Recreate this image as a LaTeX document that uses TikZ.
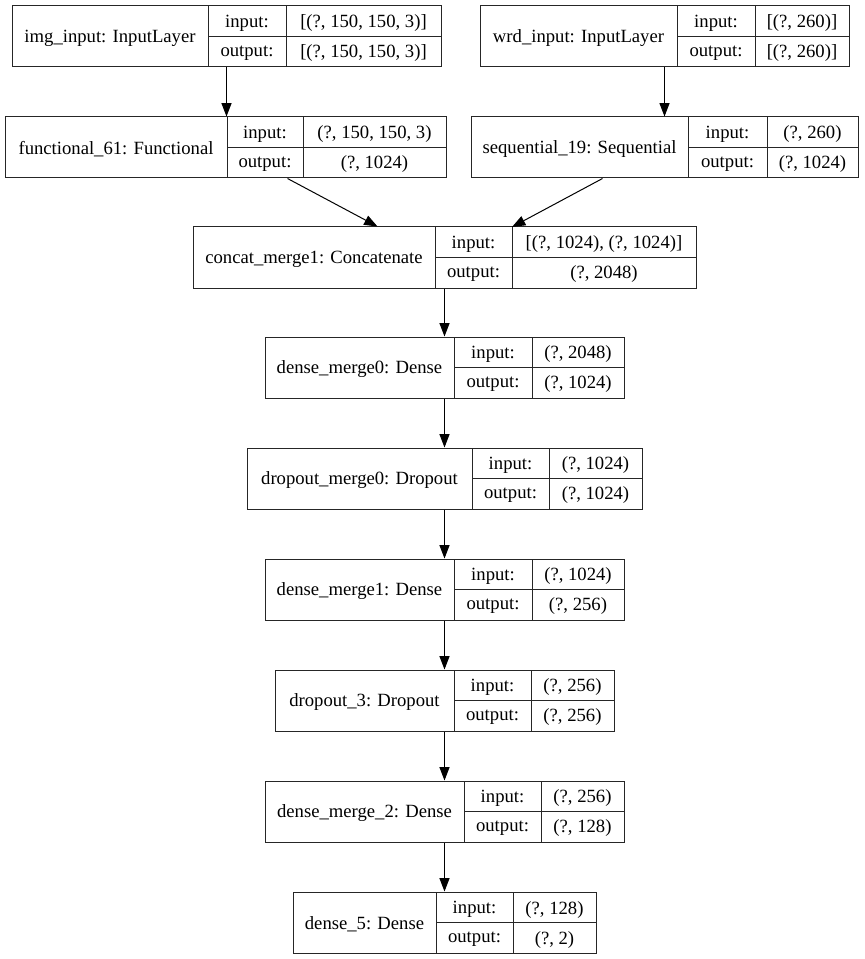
\documentclass[tikz,border=0pt]{standalone}
\usepackage{fontspec}
\setmainfont{Liberation Serif}
\usetikzlibrary{fit,calc,arrows.meta}
\tikzset{
  layer/.style={draw=black!85, line width=0.75pt, inner sep=0pt},
  layerline/.style={draw=black!85, line width=0.75pt},
  txt/.style={inner sep=0pt, font=\fontsize{14}{16}\selectfont, text=black},
  arr/.style={draw=black, line width=0.75pt, -{Triangle[length=10pt,width=7.5pt]}}
}
% #1 name, #2 x1, #3 d1, #4 d2, #5 x2, #6 ytop, #7 label, #8 input, #9 output
\newcommand\layerbox[9]{%
  \coordinate (#1-nw) at (#2,#6);
  \coordinate (#1-se) at (#5,{#6+61});
  \node[layer, fit=(#1-nw)(#1-se)] (#1) {};
  \coordinate (#1-d1) at (#3,#6);
  \coordinate (#1-d2) at (#4,#6);
  \coordinate (#1-m) at (#3,{#6+30.5});
  \draw[layerline] (#1-d1) -- (#1-d1 |- #1.south);
  \draw[layerline] (#1-d2) -- (#1-d2 |- #1.south);
  \draw[layerline] (#1-m) -- (#1-m -| #1.east);
  \node[txt] (#1-lab) at ({(#2+#3)/2},{#6+32.5}) {#7};
  \node[txt] (#1-ik) at ({(#3+#4)/2},{#6+17.5}) {input:};
  \node[txt] (#1-ok) at ({(#3+#4)/2},{#6+47.5}) {output:};
  \node[txt] (#1-iv) at ({(#4+#5)/2},{#6+17.5}) {#8};
  \node[txt] (#1-ov) at ({(#4+#5)/2},{#6+47.5}) {#9};
}
\begin{document}
\begin{tikzpicture}[x=0.75pt,y=-0.75pt]
\useasboundingbox (0,0) rectangle (864,959);
\layerbox{img}{12}{208}{286}{441}{6}{img\_input: InputLayer}{[(?, 150, 150, 3)]}{[(?, 150, 150, 3)]}
\layerbox{wrd}{480}{677}{755}{849}{6}{wrd\_input: InputLayer}{[(?, 260)]}{[(?, 260)]}
\layerbox{func}{5}{227}{303}{446}{117}{functional\_61: Functional}{(?, 150, 150, 3)}{(?, 1024)}
\layerbox{seq}{471}{688}{767}{858}{117}{sequential\_19: Sequential}{(?, 260)}{(?, 1024)}
\layerbox{concat}{193}{435}{512}{696}{227}{concat\_merge1: Concatenate}{[(?, 1024), (?, 1024)]}{(?, 2048)}
\layerbox{dm0}{265}{454}{532}{624}{337}{dense\_merge0: Dense}{(?, 2048)}{(?, 1024)}
\layerbox{do0}{247}{472}{549}{642}{448}{dropout\_merge0: Dropout}{(?, 1024)}{(?, 1024)}
\layerbox{dm1}{265}{454}{532}{624}{559}{dense\_merge1: Dense}{(?, 1024)}{(?, 256)}
\layerbox{do3}{275}{454}{531}{614}{670}{dropout\_3: Dropout}{(?, 256)}{(?, 256)}
\layerbox{dm2}{265}{464}{541}{624}{781}{dense\_merge\_2: Dense}{(?, 256)}{(?, 128)}
\layerbox{d5}{293}{436}{513}{596}{892}{dense\_5: Dense}{(?, 128)}{(?, 2)}
\draw[arr] (img.south) -- (img.south |- func.north);
\draw[arr] (wrd.south) -- (wrd.south |- seq.north);
\draw[arr] ($(func.south west)+(283,0)$) -- ($(concat.north west)+(185,0)$);
\draw[arr] ($(seq.south west)+(132,0)$) -- (concat-d2);
\draw[arr] (concat.south) -- (dm0.north);
\draw[arr] (dm0.south) -- (do0.north);
\draw[arr] (do0.south) -- (dm1.north);
\draw[arr] (dm1.south) -- (do3.north);
\draw[arr] (do3.south) -- (dm2.north);
\draw[arr] (dm2.south) -- (d5.north);
\end{tikzpicture}
\end{document}
